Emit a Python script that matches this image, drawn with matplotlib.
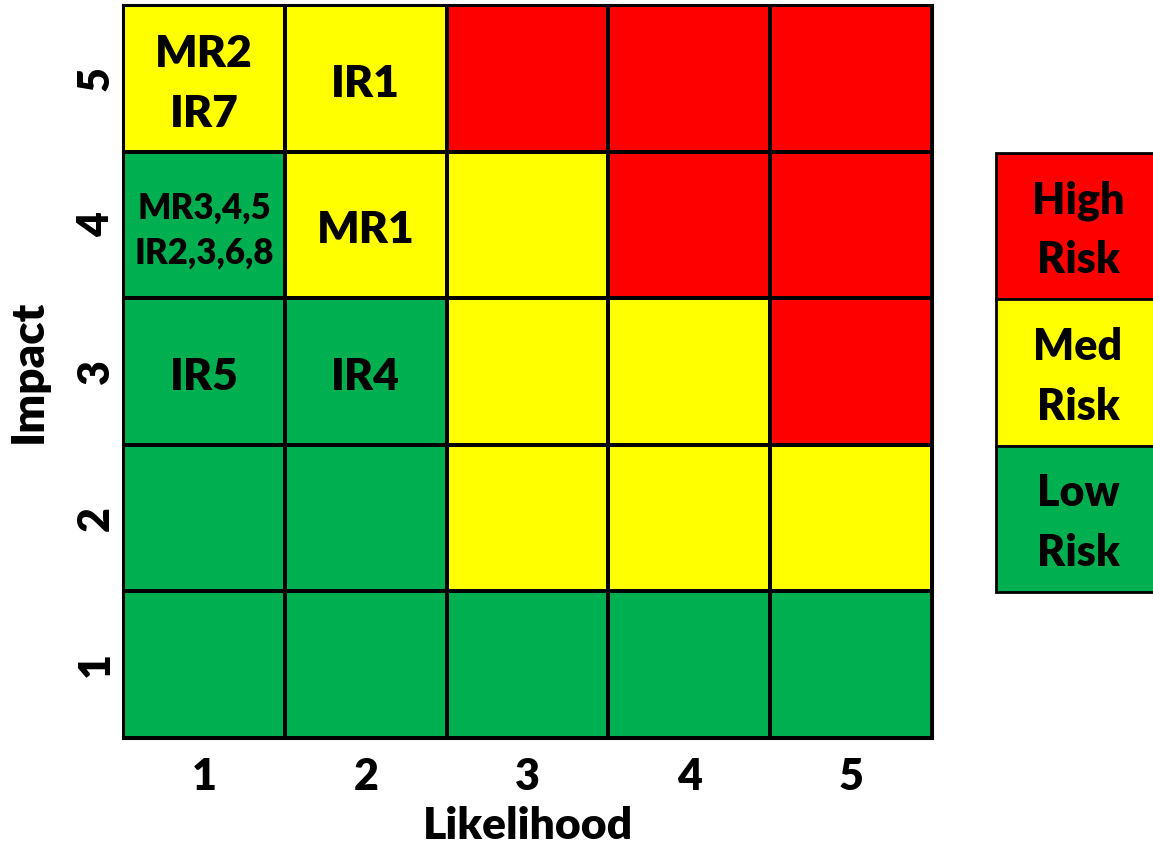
import matplotlib
matplotlib.use("Agg")
import matplotlib.pyplot as plt
import matplotlib.transforms as mtransforms
from matplotlib.colors import ListedColormap
import numpy as np

plt.rcParams['font.family'] = ['Lato', 'DejaVu Sans']
plt.rcParams['font.weight'] = 'bold'

likelihood = [1, 2, 3, 4, 5]
impact = [1, 2, 3, 4, 5]

# risk level per cell: 0 = low, 1 = medium, 2 = high; rows are impact 1..5
risk_levels = [
    [0, 0, 0, 0, 0],
    [0, 0, 1, 1, 1],
    [0, 0, 1, 1, 2],
    [0, 1, 1, 2, 2],
    [1, 1, 2, 2, 2],
]

# (likelihood, impact, label, size)
risk_items = [
    (1, 5, "MR2\nIR7", 32),
    (2, 5, "IR1", 32),
    (1, 4, "MR3,4,5\nIR2,3,6,8", 25),
    (2, 4, "MR1", 32),
    (1, 3, "IR5", 32),
    (2, 3, "IR4", 32),
]

legend_labels = ["High\nRisk", "Med\nRisk", "Low\nRisk"]
level_colors = ["#00B050", "#FFFF00", "#FF0000"]

W = "heavy"

fig = plt.figure(figsize=(11.53, 8.47), dpi=100)
ax = fig.add_axes([123 / 1153, 109 / 847, 809 / 1153, 733 / 847])

cmap = ListedColormap(level_colors)
edges = np.arange(0.5, 6.0, 1.0)
ax.pcolormesh(edges, edges, np.array(risk_levels), cmap=cmap, vmin=-0.5, vmax=2.5,
              edgecolor="black", linewidth=1.6)
ax.set_xlim(0.5, 5.5)
ax.set_ylim(0.5, 5.5)
for s in ax.spines.values():
    s.set_linewidth(2.2)

# nudge cell labels slightly below the geometric centre
cell_tr = mtransforms.offset_copy(ax.transData, fig=fig, x=0, y=-4, units="points")
for x, y, label, size in risk_items:
    ax.text(x, y, label, ha="center", va="center", fontsize=size, transform=cell_tr,
            fontweight=W, linespacing=1.6 if size > 30 else 1.45)

ax.set_xticks(likelihood)
ax.set_yticks(impact)
ax.tick_params(length=0, labelsize=31)
ax.tick_params(axis="x", pad=14)
ax.tick_params(axis="y", pad=5)
for t in ax.get_xticklabels() + ax.get_yticklabels():
    t.set_fontweight(W)
for t in ax.get_yticklabels():
    t.set_rotation(90)
    t.set_va("center")
ax.set_xlabel("Likelihood", fontsize=32, fontweight=W, labelpad=6)
ax.set_ylabel("Impact", fontsize=33, fontweight=W, labelpad=20)

# colour key
lax = fig.add_axes([996 / 1153, 255 / 847, 180 / 1153, 439 / 847])
lax.set_xlim(0, 1)
lax.set_ylim(0, 3)
lax.axis("off")
key_tr = mtransforms.offset_copy(lax.transData, fig=fig, x=0, y=-3, units="points")
for i, (lbl, col) in enumerate(zip(legend_labels, level_colors[::-1])):
    yb = 2 - i
    lax.add_patch(plt.Rectangle((0, yb), 1, 1, facecolor=col, edgecolor="black",
                                linewidth=2.0, clip_on=False))
    lax.text(82 / 180, yb + 0.5, lbl, ha="center", va="center", fontsize=31,
             fontweight=W, linespacing=1.6, transform=key_tr)

fig.savefig("out.png", dpi=100)
